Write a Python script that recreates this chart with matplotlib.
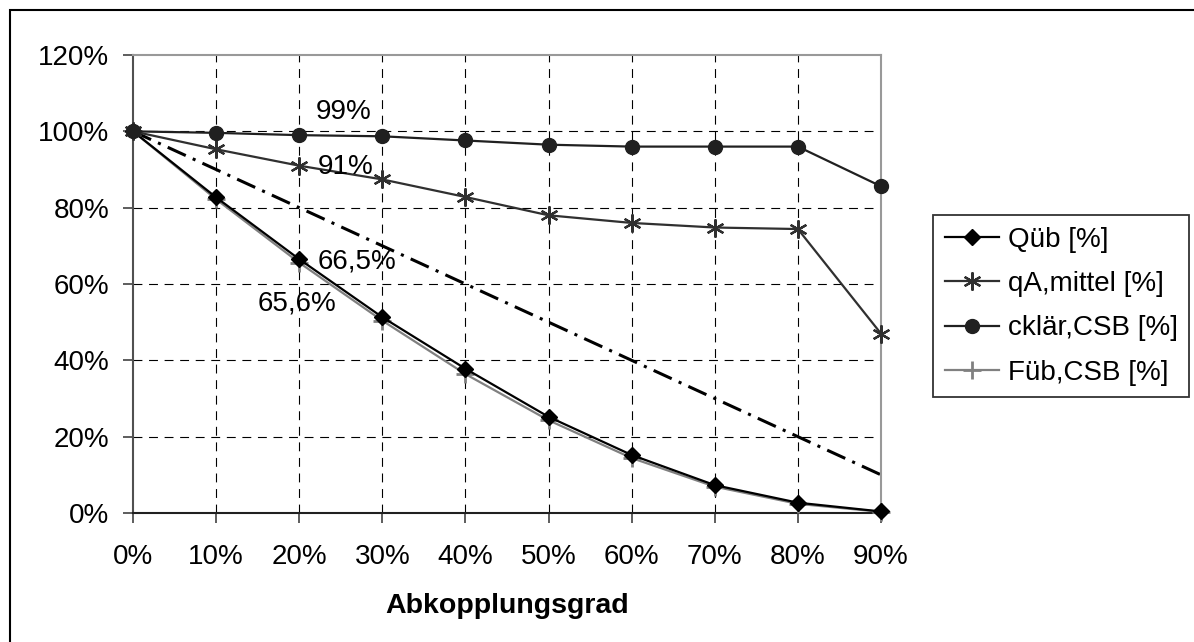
import matplotlib
matplotlib.use("Agg")
import matplotlib.pyplot as plt
from matplotlib.patches import Rectangle

# data
categories = ["0%", "10%", "20%", "30%", "40%", "50%", "60%", "70%", "80%", "90%"]
q_ueb = [100, 82.7, 66.5, 51.3, 37.8, 25.2, 15.2, 7.3, 2.7, 0.4]
qa_mittel = [100, 95.3, 91.0, 87.4, 82.8, 78.0, 76.0, 74.8, 74.4, 47.0]
c_klaer = [100, 99.6, 99.0, 98.7, 97.6, 96.5, 96.0, 96.0, 96.0, 85.6]
f_ueb = [100, 82.2, 65.6, 50.4, 36.4, 24.3, 14.4, 6.9, 2.4, 0.3]
reference = [100, 90, 80, 70, 60, 50, 40, 30, 20, 10]
y_ticks = [0, 20, 40, 60, 80, 100, 120]
labels = ["Qüb [%]", "qA,mittel [%]", "cklär,CSB [%]", "Füb,CSB [%]"]
notes = [("99%", 2.53, 105.1), ("91%", 2.56, 90.6),
         ("66,5%", 2.70, 65.8), ("65,6%", 1.97, 55.0)]

plt.rcParams['font.family'] = ['Liberation Sans', 'DejaVu Sans']
plt.rcParams['font.size'] = 20

W, H = 1194, 642
fig = plt.figure(figsize=(W / 100, H / 100), dpi=100)
ax = fig.add_axes([133 / W, 1 - 513 / H, (881 - 133) / W, (513 - 55) / H])

x = list(range(len(categories)))

# grid
for xi in x[1:-1]:
    ax.axvline(xi, color='black', lw=0.8, ls=(0, (8, 6)), zorder=1)
for yi in y_ticks[1:-1]:
    ax.axhline(yi, color='black', lw=0.8, ls=(0, (8, 6)), zorder=1)

ax.plot(x, reference, color='black', lw=2.2, ls=(0, (6.5, 2.5, 1, 2.5)), zorder=2)

ax.plot(x, f_ueb, color='#808080', lw=1.6, marker='+', ms=13, mew=2,
        label=labels[3], clip_on=False, zorder=3)
ax.plot(x, q_ueb, color='black', lw=1.6, marker='D', ms=8,
        label=labels[0], clip_on=False, zorder=4)
ax.plot(x, qa_mittel, color='#303030', lw=1.6, marker=(6, 2, 0), ms=13, mew=1.6,
        label=labels[1], clip_on=False, zorder=4)
ax.plot(x, c_klaer, color='#202020', lw=1.6, marker='o', ms=10,
        label=labels[2], clip_on=False, zorder=4)

for txt, tx, ty in notes:
    ax.text(tx, ty, txt, ha='center', va='center', fontsize=20, zorder=5)

ax.set_xlim(0, 9)
ax.set_ylim(0, 120)
ax.set_xticks(x)
ax.set_xticklabels(categories)
ax.set_yticks(y_ticks)
ax.set_yticklabels([f"{v}%" for v in y_ticks])
ax.tick_params(axis='both', direction='out', length=7, width=1.3, color='#505050')
ax.tick_params(axis='x', pad=15)
ax.tick_params(axis='y', pad=10)

ax.spines['left'].set_color('#505050')
ax.spines['bottom'].set_color('#202020')
ax.spines['top'].set_color('#999999')
ax.spines['right'].set_color('#999999')
for s in ax.spines.values():
    s.set_linewidth(1.5)

ax.set_xlabel("Abkopplungsgrad", fontweight='bold', fontsize=20.5, labelpad=17)

h, l = ax.get_legend_handles_labels()
order = [l.index(s) for s in labels]
leg = fig.legend([h[i] for i in order], [l[i] for i in order],
                 loc='upper left', bbox_to_anchor=(933 / W, 1 - 215 / H),
                 borderaxespad=0, fancybox=False, edgecolor='black',
                 handlelength=1.95, handletextpad=0.32, borderpad=0.42,
                 labelspacing=0.66, fontsize=20)
leg.get_frame().set_linewidth(1.3)

fig.add_artist(Rectangle((10 / W, -0.1), 2, 1.1 - 10 / H, transform=fig.transFigure,
                         fill=False, edgecolor='black', lw=1.5))

fig.savefig("out.png", dpi=100)
